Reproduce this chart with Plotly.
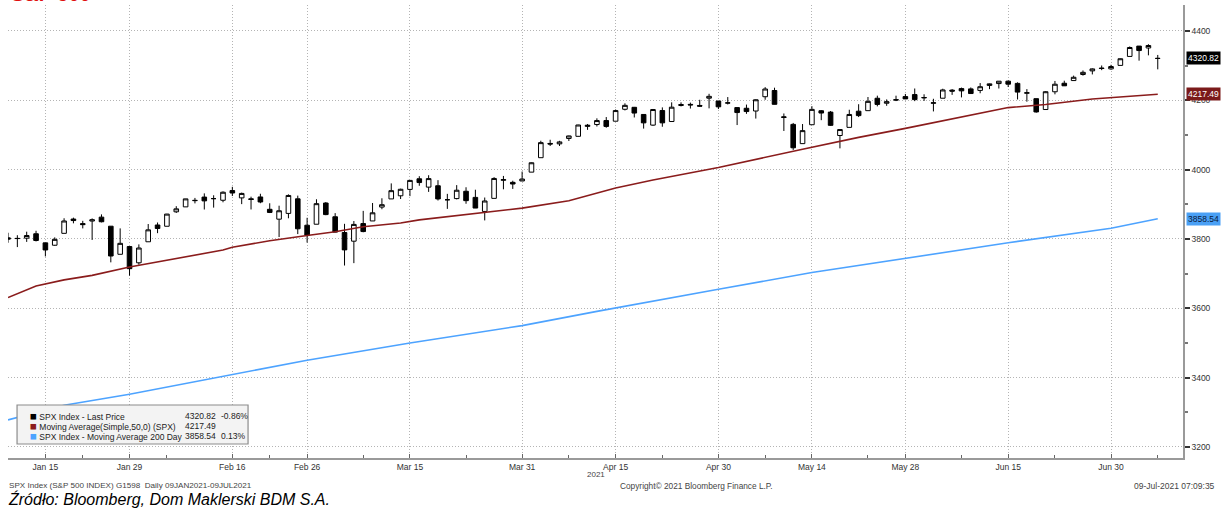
import plotly.graph_objects as go

# ---------------- data ----------------
dates = [
    "2021-01-11", "2021-01-12", "2021-01-13", "2021-01-14", "2021-01-15", "2021-01-19", "2021-01-20",
    "2021-01-21", "2021-01-22", "2021-01-25", "2021-01-26", "2021-01-27", "2021-01-28", "2021-01-29",
    "2021-02-01", "2021-02-02", "2021-02-03", "2021-02-04", "2021-02-05", "2021-02-08", "2021-02-09",
    "2021-02-10", "2021-02-11", "2021-02-12", "2021-02-16", "2021-02-17", "2021-02-18", "2021-02-19",
    "2021-02-22", "2021-02-23", "2021-02-24", "2021-02-25", "2021-02-26",
    "2021-03-01", "2021-03-02", "2021-03-03", "2021-03-04", "2021-03-05", "2021-03-08", "2021-03-09",
    "2021-03-10", "2021-03-11", "2021-03-12", "2021-03-15", "2021-03-16", "2021-03-17", "2021-03-18",
    "2021-03-19", "2021-03-22", "2021-03-23", "2021-03-24", "2021-03-25", "2021-03-26", "2021-03-29",
    "2021-03-30", "2021-03-31",
    "2021-04-01", "2021-04-05", "2021-04-06", "2021-04-07", "2021-04-08", "2021-04-09", "2021-04-12",
    "2021-04-13", "2021-04-14", "2021-04-15", "2021-04-16", "2021-04-19", "2021-04-20", "2021-04-21",
    "2021-04-22", "2021-04-23", "2021-04-26", "2021-04-27", "2021-04-28", "2021-04-29", "2021-04-30",
    "2021-05-03", "2021-05-04", "2021-05-05", "2021-05-06", "2021-05-07", "2021-05-10", "2021-05-11",
    "2021-05-12", "2021-05-13", "2021-05-14", "2021-05-17", "2021-05-18", "2021-05-19", "2021-05-20",
    "2021-05-21", "2021-05-24", "2021-05-25", "2021-05-26", "2021-05-27", "2021-05-28",
    "2021-06-01", "2021-06-02", "2021-06-03", "2021-06-04", "2021-06-07", "2021-06-08", "2021-06-09",
    "2021-06-10", "2021-06-11", "2021-06-14", "2021-06-15", "2021-06-16", "2021-06-17", "2021-06-18",
    "2021-06-21", "2021-06-22", "2021-06-23", "2021-06-24", "2021-06-25", "2021-06-28", "2021-06-29",
    "2021-06-30",
    "2021-07-01", "2021-07-02", "2021-07-06", "2021-07-07", "2021-07-08",
]

open_ = [
    3803.14, 3801.62, 3802.23, 3814.98, 3788.73, 3781.88, 3816.22, 3857.46, 3844.24, 3851.68, 3862.96,
    3836.83, 3755.75, 3778.05,
    3731.17, 3791.84, 3840.27, 3836.66, 3878.30, 3892.59, 3910.49, 3920.78, 3916.40, 3911.65, 3939.61,
    3918.50, 3915.86, 3921.16, 3885.55, 3857.07, 3873.71, 3915.80, 3839.66,
    3842.51, 3903.64, 3863.99, 3818.53, 3793.58, 3844.39, 3851.93, 3891.99, 3915.54, 3924.52, 3942.96,
    3973.59, 3949.57, 3953.50, 3913.14, 3916.48, 3937.60, 3919.93, 3879.34, 3917.12, 3969.31, 3963.34,
    3967.25,
    3992.78, 4034.44, 4075.57, 4074.29, 4089.95, 4096.11, 4124.71, 4130.10, 4141.58, 4139.76, 4174.14,
    4179.80, 4159.18, 4128.42, 4170.46, 4138.78, 4185.03, 4188.25, 4185.14, 4206.14, 4198.10,
    4191.98, 4179.04, 4177.06, 4169.14, 4210.34, 4228.29, 4150.34, 4130.55, 4074.99, 4129.58, 4169.92,
    4165.94, 4098.45, 4121.97, 4168.61, 4170.16, 4205.94, 4191.59, 4201.94, 4210.77,
    4216.52, 4206.82, 4191.43, 4206.05, 4229.34, 4233.81, 4232.99, 4228.56, 4242.90, 4248.31, 4255.28,
    4248.87, 4220.37, 4204.78, 4173.40, 4224.61, 4249.27, 4256.97, 4274.45, 4284.90, 4293.21, 4290.65,
    4300.73, 4326.60, 4356.46, 4351.01, 4321.07,
]

high_ = [
    3817.86, 3810.78, 3820.96, 3823.60, 3788.73, 3804.53, 3859.75, 3861.45, 3852.31, 3859.23, 3870.90,
    3836.83, 3830.50, 3778.05,
    3784.32, 3843.09, 3847.51, 3872.42, 3894.56, 3915.77, 3918.35, 3931.50, 3925.99, 3937.23, 3950.43,
    3933.61, 3921.98, 3930.41, 3902.92, 3895.98, 3928.65, 3925.02, 3861.08,
    3914.50, 3906.41, 3874.47, 3843.67, 3851.69, 3881.06, 3903.76, 3917.35, 3960.27, 3944.99, 3970.08,
    3981.04, 3983.87, 3969.62, 3930.12, 3955.31, 3949.13, 3942.08, 3919.54, 3978.19, 3981.83, 3968.01,
    3994.41,
    4020.63, 4083.42, 4086.23, 4083.13, 4098.19, 4129.48, 4131.76, 4148.00, 4151.69, 4173.49, 4191.31,
    4180.81, 4159.18, 4175.02, 4179.57, 4194.17, 4194.19, 4193.35, 4201.53, 4218.78, 4198.10,
    4209.39, 4179.04, 4187.72, 4202.70, 4238.04, 4236.39, 4162.04, 4134.73, 4131.58, 4183.13, 4171.92,
    4169.15, 4116.93, 4172.80, 4188.72, 4209.52, 4213.42, 4202.61, 4213.38, 4218.36,
    4234.12, 4217.37, 4204.39, 4233.45, 4232.34, 4236.74, 4237.09, 4249.74, 4248.38, 4255.59, 4257.16,
    4251.89, 4232.29, 4204.78, 4226.24, 4255.84, 4256.60, 4271.28, 4286.12, 4292.14, 4300.52, 4302.43,
    4320.66, 4355.43, 4356.46, 4361.88, 4330.88,
]

low_ = [
    3789.02, 3776.51, 3791.50, 3792.86, 3749.62, 3780.37, 3816.22, 3845.05, 3830.41, 3797.16, 3847.78,
    3732.48, 3755.75, 3694.12,
    3725.62, 3791.84, 3816.68, 3836.66, 3874.93, 3892.59, 3902.64, 3884.94, 3890.39, 3905.78, 3923.85,
    3900.43, 3885.03, 3903.07, 3874.71, 3805.59, 3859.60, 3814.04, 3789.54,
    3842.51, 3868.57, 3818.86, 3723.34, 3730.19, 3819.25, 3851.93, 3885.73, 3915.54, 3915.21, 3923.54,
    3953.44, 3935.74, 3910.86, 3886.75, 3914.16, 3901.57, 3889.07, 3853.50, 3917.12, 3943.25, 3944.35,
    3966.98,
    3992.78, 4034.44, 4068.14, 4068.31, 4082.54, 4095.51, 4114.82, 4124.43, 4120.87, 4139.76, 4170.75,
    4150.47, 4118.38, 4126.35, 4123.69, 4138.78, 4182.36, 4176.22, 4181.78, 4176.81, 4174.85,
    4188.03, 4128.59, 4160.94, 4147.33, 4201.64, 4188.13, 4111.53, 4056.88, 4074.99, 4129.58, 4142.69,
    4125.99, 4061.41, 4121.97, 4151.72, 4170.16, 4182.52, 4184.11, 4197.78, 4203.57,
    4197.59, 4198.27, 4167.93, 4206.05, 4215.66, 4208.41, 4218.74, 4220.34, 4232.25, 4234.07, 4238.35,
    4202.45, 4196.05, 4164.40, 4173.40, 4217.27, 4241.43, 4256.97, 4271.16, 4274.67, 4287.04, 4287.96,
    4300.73, 4326.60, 4314.37, 4329.79, 4289.37,
]

close_ = [
    3799.61, 3801.19, 3809.84, 3795.54, 3768.25, 3798.91, 3851.85, 3853.07, 3841.47, 3855.36, 3849.62,
    3750.77, 3787.38, 3714.24,
    3773.86, 3826.31, 3830.17, 3871.74, 3886.83, 3915.59, 3911.23, 3909.88, 3916.38, 3934.83, 3932.59,
    3931.33, 3913.97, 3906.71, 3876.50, 3881.37, 3925.43, 3829.34, 3811.15,
    3901.82, 3870.29, 3819.72, 3768.47, 3841.94, 3821.35, 3875.44, 3898.81, 3939.34, 3943.34, 3968.94,
    3962.71, 3974.12, 3915.46, 3913.10, 3940.59, 3910.52, 3889.14, 3909.52, 3974.54, 3971.09, 3958.55,
    3972.89,
    4019.87, 4077.91, 4073.94, 4079.95, 4097.17, 4128.80, 4127.99, 4141.59, 4124.66, 4170.42, 4185.47,
    4163.26, 4134.94, 4173.42, 4134.98, 4180.17, 4187.62, 4186.72, 4183.18, 4211.47, 4181.17,
    4192.66, 4164.66, 4167.59, 4201.62, 4232.60, 4188.43, 4152.10, 4063.04, 4112.50, 4173.85, 4163.29,
    4127.83, 4115.68, 4159.12, 4155.86, 4197.05, 4188.13, 4195.99, 4200.88, 4204.11,
    4202.04, 4208.12, 4192.85, 4229.89, 4226.52, 4227.26, 4219.55, 4239.18, 4247.44, 4255.15, 4246.59,
    4223.70, 4221.86, 4166.45, 4224.79, 4246.44, 4241.84, 4266.49, 4280.70, 4290.61, 4291.80, 4297.50,
    4319.94, 4352.34, 4343.54, 4358.13, 4320.82,
]

# 50-day simple moving average
ma50_dates = [
    "2021-01-11", "2021-01-14", "2021-01-20", "2021-01-25", "2021-01-29", "2021-02-08", "2021-02-12",
    "2021-02-16", "2021-02-22", "2021-02-26", "2021-03-03", "2021-03-08", "2021-03-12", "2021-03-16",
    "2021-03-22", "2021-03-25", "2021-03-31", "2021-04-08", "2021-04-15", "2021-04-21", "2021-04-30",
    "2021-05-13", "2021-05-21", "2021-05-28", "2021-06-09", "2021-06-15", "2021-06-21", "2021-06-28",
    "2021-07-08",
]
ma50_values = [
    3631, 3664, 3682, 3695, 3719, 3749, 3768, 3776, 3795, 3810, 3821, 3835, 3846, 3855,
    3868, 3876, 3889, 3910, 3947, 3970, 4006, 4059, 4093, 4119, 4158, 4179, 4188, 4204,
    4217.49,
]

# 200-day moving average
ma200_dates = [
    "2021-01-11", "2021-01-20", "2021-01-29", "2021-02-16", "2021-02-26", "2021-03-15", "2021-03-26",
    "2021-03-31", "2021-04-13", "2021-04-15", "2021-04-30", "2021-05-14", "2021-05-28", "2021-06-15",
    "2021-06-30", "2021-07-08",
]
ma200_values = [
    3278, 3320, 3352, 3408, 3450, 3500, 3536, 3550, 3591, 3601, 3655, 3703, 3744, 3789, 3831, 3858.54,
]

# axis labels
major_dates = ["2021-01-15", "2021-01-29", "2021-02-16", "2021-02-26", "2021-03-15", "2021-03-31",
               "2021-04-15", "2021-04-30", "2021-05-14", "2021-05-28", "2021-06-15", "2021-06-30"]
major_labels = ["Jan 15", "Jan 29", "Feb 16", "Feb 26", "Mar 15", "Mar 31",
                "Apr 15", "Apr 30", "May 14", "May 28", "Jun 15", "Jun 30"]
minor_dates = ["2021-01-11", "2021-01-22", "2021-02-04", "2021-02-22", "2021-03-08", "2021-03-23",
               "2021-04-08", "2021-04-22", "2021-05-07", "2021-05-24", "2021-06-08", "2021-06-22",
               "2021-07-08"]
y_ticks = [3200, 3400, 3600, 3800, 4000, 4200, 4400]

last_price = 4320.82
last_change = "-0.86%"
ma50_last = 4217.49
ma200_last = 3858.54
ma200_change = "0.13%"

# ---------------- figure ----------------
pos = {d: i for i, d in enumerate(dates)}
xs = [pos[d] for d in dates]

FONT = "Liberation Sans, Arial, sans-serif"
RED_MA = "#8a1c1c"
BLUE_MA = "#4da3ff"
GRID = "#b4b4b4"
DOT = "1px,2px"

fig = go.Figure()

fig.add_trace(go.Scatter(
    x=[pos[d] for d in ma200_dates], y=ma200_values, mode="lines",
    line=dict(color=BLUE_MA, width=1.6), hoverinfo="skip", showlegend=False,
))
fig.add_trace(go.Scatter(
    x=[pos[d] for d in ma50_dates], y=ma50_values, mode="lines",
    line=dict(color=RED_MA, width=1.6), hoverinfo="skip", showlegend=False,
))
fig.add_trace(go.Candlestick(
    x=xs, open=open_, high=high_, low=low_, close=close_,
    increasing=dict(line=dict(color="#000000", width=1), fillcolor="#ffffff"),
    decreasing=dict(line=dict(color="#000000", width=1), fillcolor="#000000"),
    whiskerwidth=0, showlegend=False, hoverinfo="skip",
))

fig.update_layout(
    width=1221, height=508,
    margin=dict(l=8, r=38, t=5, b=50),
    paper_bgcolor="#ffffff", plot_bgcolor="#ffffff",
    font=dict(family=FONT, size=8, color="#333333"),
    showlegend=False,
)

fig.update_xaxes(
    type="linear", range=[0.0, 125.7], rangeslider=dict(visible=False),
    tickmode="array", tickvals=[pos[d] for d in major_dates], ticktext=major_labels,
    ticks="inside", ticklen=4, tickcolor="#666666", tickwidth=1,
    tickfont=dict(family=FONT, size=8.5, color="#333333"),
    showgrid=True, gridcolor=GRID, griddash=DOT, gridwidth=1,
    showline=True, linecolor="#9a9a9a", linewidth=1.5,
    zeroline=False,
    minor=dict(tickmode="array", tickvals=[pos[d] for d in minor_dates],
               ticks="inside", ticklen=3, tickcolor="#666666", showgrid=False),
)

fig.update_yaxes(
    side="right", range=[3168, 4475],
    tickmode="array", tickvals=y_ticks,
    ticks="outside", ticklen=5, tickwidth=2, tickcolor="#333333",
    tickfont=dict(family=FONT, size=8.5, color="#333333"),
    showgrid=True, gridcolor=GRID, griddash=DOT, gridwidth=1,
    showline=True, linecolor="#9a9a9a", linewidth=1.5,
    zeroline=False,
    minor=dict(dtick=100, tick0=3200, ticks="outside", ticklen=3, tickcolor="#777777", showgrid=False),
)

ann = []
# title (mostly cut off at the top)
ann.append(dict(text="<b>S&P 500</b>", xref="paper", yref="paper", x=0, y=1, xshift=1,
                xanchor="left", yanchor="bottom", yshift=-2, showarrow=False,
                font=dict(family="Liberation Sans, Arial", size=20, color="#e01010")))

# right-side value labels
for val, bg, fc in [(last_price, "#000000", "#ffffff"), (ma50_last, "#7b1a1a", "#ffffff"),
                    (ma200_last, "#4aa0f5", "#0a1a3a")]:
    ann.append(dict(text=f"{val:.2f}", xref="paper", yref="y", x=1, y=val, xanchor="left",
                    yanchor="middle", xshift=3, showarrow=False, bgcolor=bg, borderpad=1,
                    font=dict(family=FONT, size=8.5, color=fc)))

# legend box contents
rows = [
    ("#000000", "SPX Index - Last Price", f"{last_price:.2f}", last_change),
    (RED_MA, "Moving Average(Simple,50,0) (SPX)", f"{ma50_last:.2f}", ""),
    (BLUE_MA, "SPX Index - Moving Average 200 Day", f"{ma200_last:.2f}", ma200_change),
]
row_y = [0.0934, 0.0713, 0.0492]
for (col, name, val, chg), ry in zip(rows, row_y):
    ann.append(dict(text=f"<span style='color:{col};font-size:11.5px'>■</span> {name}", xref="paper",
                    yref="paper", x=0.0172, y=ry, xanchor="left", yanchor="middle", showarrow=False,
                    font=dict(family=FONT, size=8.5, color="#222222")))
    ann.append(dict(text=val, xref="paper", yref="paper", x=0.1489, y=ry, xanchor="left",
                    yanchor="middle", showarrow=False, font=dict(family=FONT, size=8.5, color="#222222")))
    if chg:
        ann.append(dict(text=chg, xref="paper", yref="paper", x=0.1796, y=ry, xanchor="left",
                        yanchor="middle", showarrow=False, font=dict(family=FONT, size=8.5, color="#222222")))

# footer texts
ann.append(dict(text="2021", xref="paper", yref="paper", x=0.5004, y=-0.0364, xanchor="center",
                yanchor="middle", showarrow=False, font=dict(family=FONT, size=8, color="#444444")))
ann.append(dict(text="SPX Index (S&P 500 INDEX) G1598  Daily 09JAN2021-09JUL2021", xref="paper",
                yref="paper", x=-0.001, y=-0.0618, xanchor="left", yanchor="middle", showarrow=False,
                font=dict(family=FONT, size=8.1, color="#444444")))
ann.append(dict(text="Copyright© 2021 Bloomberg Finance L.P.", xref="paper", yref="paper", x=0.519,
                y=-0.0618, xanchor="left", yanchor="middle", showarrow=False,
                font=dict(family=FONT, size=8.3, color="#444444")))
ann.append(dict(text="09-Jul-2021 07:09:35", xref="paper", yref="paper", x=1.029, y=-0.0618,
                xanchor="right", yanchor="middle", showarrow=False,
                font=dict(family=FONT, size=8.5, color="#444444")))
ann.append(dict(text="<i>Źródło: Bloomberg, Dom Maklerski BDM S.A.</i>", xref="paper", yref="paper",
                x=-0.0015, y=-0.0905, xanchor="left", yanchor="middle", showarrow=False,
                font=dict(family="Liberation Sans, Arial", size=16, color="#000000")))

fig.update_layout(annotations=ann)

fig.add_shape(type="rect", xref="paper", yref="paper", x0=0.0077, x1=0.2043, y0=0.0309, y1=0.117,
              line=dict(color="#8c8c8c", width=1.2), fillcolor="#f3f3f3", layer="above")

fig.write_html("out.html", config={"displayModeBar": False},
               post_script="document.body.style.margin='0';document.body.style.overflow='hidden';")
